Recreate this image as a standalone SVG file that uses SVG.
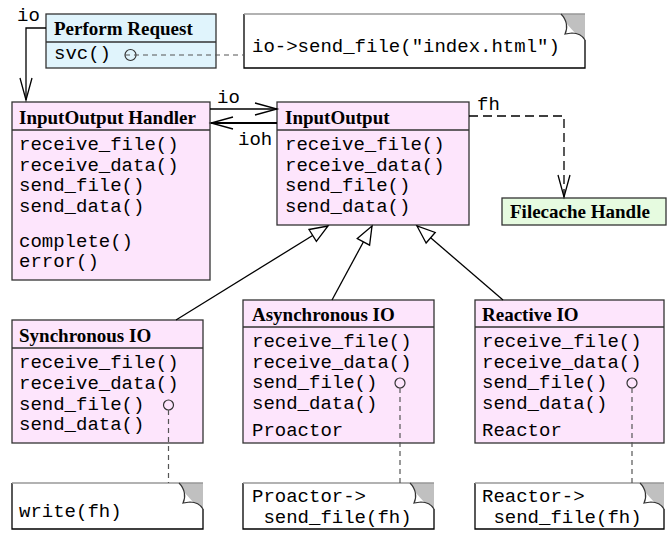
<svg xmlns="http://www.w3.org/2000/svg" width="668" height="539" viewBox="0 0 668 539">
<style>
.box{stroke:#333;stroke-width:1.3}
.pink{fill:#fde5fc}
.cyan{fill:#e0f4fc}
.green{fill:#e6fbe0}
.div{stroke:#333;stroke-width:1.3}
.t{font-family:"Liberation Serif",serif;font-weight:bold;font-size:19px;fill:#000}
.m{font-family:"Liberation Mono",monospace;font-size:19px;fill:#000}
.ln{fill:none;stroke:#000;stroke-width:1.3}
.dg{fill:none;stroke:#555;stroke-width:1.2;stroke-dasharray:5,4}
.db{fill:none;stroke:#000;stroke-width:1.3;stroke-dasharray:9,5}
.nb{fill:#fff;stroke:none}
.ne{fill:none;stroke:#000;stroke-width:1.3}
.nt{fill:none;stroke:#999;stroke-width:1.3}
.nc{fill:#c0c0c0;stroke:none}
.nf{fill:#fff;stroke:none}
.ncurl{fill:none;stroke:#333;stroke-width:1.2}
.pin{fill:none;stroke:#333;stroke-width:1.2}
</style>
<defs>
<marker id="open" viewBox="0 0 22 12" refX="22" refY="6" markerWidth="22" markerHeight="12" markerUnits="userSpaceOnUse" orient="auto" overflow="visible"><path d="M0,0 L22,6 L0,12" fill="none" stroke="#000" stroke-width="1.3" stroke-dasharray="none"/></marker>
<marker id="gen" viewBox="0 0 18 14" refX="18" refY="7" markerWidth="18" markerHeight="14" markerUnits="userSpaceOnUse" orient="auto" overflow="visible"><path d="M0,0 L18,7 L0,14 Z" fill="#fff" stroke="#000" stroke-width="1.3"/></marker>
</defs>

<g id="perform-request">
<rect class="box cyan" x="46" y="14" width="170" height="54"/>
<line class="div" x1="46" y1="42" x2="216" y2="42"/>
<text class="t" x="54" y="35">Perform Request</text>
<text class="m" x="54" y="59">svc()</text>
<circle class="pin" cx="130.5" cy="55" r="5.5"/>
</g>

<g id="note-index">
<path class="nb" d="M244,14 H561 C567,20 568,28 565,34 L572,33 C578,33 582,35 585,40 V68 H244 Z"/>
<path class="nc" d="M561,14 H585 V40 C582,35 578,33 572,33 L565,34 C568,28 567,20 561,14 Z"/>
<path class="nf" d="M566,23 L575,33 L565,34 Z"/>
<path class="ne" d="M244,14 V68 H585 V40"/>
<path class="nt" d="M244,14 H585"/>
<path class="ncurl" d="M561,14 C567,20 568,28 565,34 L572,33 C578,33 582,35 585,40"/>
<text class="m" x="252" y="52">io-&gt;send_file("index.html")</text>
</g>

<g id="inputoutput-handler">
<rect class="box pink" x="12" y="102" width="198" height="178"/>
<line class="div" x1="12" y1="130" x2="210" y2="130"/>
<text class="t" x="19" y="124">InputOutput Handler</text>
<text class="m" x="19" y="150">receive_file()</text>
<text class="m" x="19" y="170.5">receive_data()</text>
<text class="m" x="19" y="191">send_file()</text>
<text class="m" x="19" y="211.5">send_data()</text>
<text class="m" x="19" y="246.5">complete()</text>
<text class="m" x="19" y="267">error()</text>
</g>

<g id="inputoutput">
<rect class="box pink" x="277" y="102" width="192" height="123"/>
<line class="div" x1="277" y1="130" x2="469" y2="130"/>
<text class="t" x="285" y="124">InputOutput</text>
<text class="m" x="285" y="150">receive_file()</text>
<text class="m" x="285" y="170.5">receive_data()</text>
<text class="m" x="285" y="191">send_file()</text>
<text class="m" x="285" y="211.5">send_data()</text>
</g>

<g id="filecache-handle">
<rect class="box green" x="502" y="198" width="164" height="27"/>
<text class="t" x="510" y="218">Filecache Handle</text>
</g>

<g id="synchronous-io">
<rect class="box pink" x="12" y="320" width="191" height="123"/>
<line class="div" x1="12" y1="348" x2="203" y2="348"/>
<text class="t" x="19" y="342">Synchronous IO</text>
<text class="m" x="19" y="368">receive_file()</text>
<text class="m" x="19" y="389">receive_data()</text>
<text class="m" x="19" y="409.5">send_file()</text>
<text class="m" x="19" y="430">send_data()</text>
<circle class="pin" cx="168.5" cy="405" r="5"/>
</g>

<g id="asynchronous-io">
<rect class="box pink" x="243" y="300" width="191" height="143"/>
<line class="div" x1="243" y1="327" x2="434" y2="327"/>
<text class="t" x="252" y="321">Asynchronous IO</text>
<text class="m" x="252" y="347">receive_file()</text>
<text class="m" x="252" y="368">receive_data()</text>
<text class="m" x="252" y="388">send_file()</text>
<text class="m" x="252" y="409">send_data()</text>
<text class="m" x="252" y="436">Proactor</text>
<circle class="pin" cx="400" cy="383" r="5"/>
</g>

<g id="reactive-io">
<rect class="box pink" x="475" y="300" width="189" height="143"/>
<line class="div" x1="475" y1="327" x2="664" y2="327"/>
<text class="t" x="482" y="321">Reactive IO</text>
<text class="m" x="482" y="347">receive_file()</text>
<text class="m" x="482" y="368">receive_data()</text>
<text class="m" x="482" y="388">send_file()</text>
<text class="m" x="482" y="409">send_data()</text>
<text class="m" x="482" y="436">Reactor</text>
<circle class="pin" cx="632" cy="383" r="5"/>
</g>

<g id="note-write">
<path class="nb" d="M12,483 H179 C185,489 186,497 183,503 L190,502 C196,502 200,504 203,509 V529 H12 Z"/>
<path class="nc" d="M179,483 H203 V509 C200,504 196,502 190,502 L183,503 C186,497 185,489 179,483 Z"/>
<path class="nf" d="M184,492 L193,502 L183,503 Z"/>
<path class="ne" d="M12,483 V529 H203 V509"/>
<path class="nt" d="M12,483 H203"/>
<path class="ncurl" d="M179,483 C185,489 186,497 183,503 L190,502 C196,502 200,504 203,509"/>
<text class="m" x="19" y="517">write(fh)</text>
</g>

<g id="note-proactor">
<path class="nb" d="M243,483 H410 C416,489 417,497 414,503 L421,502 C427,502 431,504 434,509 V529 H243 Z"/>
<path class="nc" d="M410,483 H434 V509 C431,504 427,502 421,502 L414,503 C417,497 416,489 410,483 Z"/>
<path class="nf" d="M415,492 L424,502 L414,503 Z"/>
<path class="ne" d="M243,483 V529 H434 V509"/>
<path class="nt" d="M243,483 H434"/>
<path class="ncurl" d="M410,483 C416,489 417,497 414,503 L421,502 C427,502 431,504 434,509"/>
<text class="m" x="252" y="502">Proactor-&gt;</text>
<text class="m" x="263.4" y="523">send_file(fh)</text>
</g>

<g id="note-reactor">
<path class="nb" d="M475,483 H640 C646,489 647,497 644,503 L651,502 C657,502 661,504 664,509 V529 H475 Z"/>
<path class="nc" d="M640,483 H664 V509 C661,504 657,502 651,502 L644,503 C647,497 646,489 640,483 Z"/>
<path class="nf" d="M645,492 L654,502 L644,503 Z"/>
<path class="ne" d="M475,483 V529 H664 V509"/>
<path class="nt" d="M475,483 H664"/>
<path class="ncurl" d="M640,483 C646,489 647,497 644,503 L651,502 C657,502 661,504 664,509"/>
<text class="m" x="482" y="502">Reactor-&gt;</text>
<text class="m" x="493.4" y="523">send_file(fh)</text>
</g>

<g id="connectors">
<path class="ln" d="M46,28 H26 V100" marker-end="url(#open)"/>
<path class="ln" d="M210,109 H277" marker-end="url(#open)"/>
<path class="ln" style="stroke-width:2" d="M277,123 H211" marker-end="url(#open)"/>
<path class="db" d="M469,116 H564 V197" marker-end="url(#open)"/>
<path class="ln" d="M176,320 L328,226" marker-end="url(#gen)"/>
<path class="ln" d="M332,300 L372,226" marker-end="url(#gen)"/>
<path class="ln" d="M503,300 L417,226" marker-end="url(#gen)"/>
<path class="dg" d="M125,55 H244"/>
<path class="dg" d="M168.5,410 V483"/>
<path class="dg" d="M400,388 V483"/>
<path class="dg" d="M632,388 V483"/>
<text class="m" x="17" y="21">io</text>
<text class="m" x="217" y="103">io</text>
<text class="m" x="238" y="145">ioh</text>
<text class="m" x="477" y="110">fh</text>
</g>
</svg>
